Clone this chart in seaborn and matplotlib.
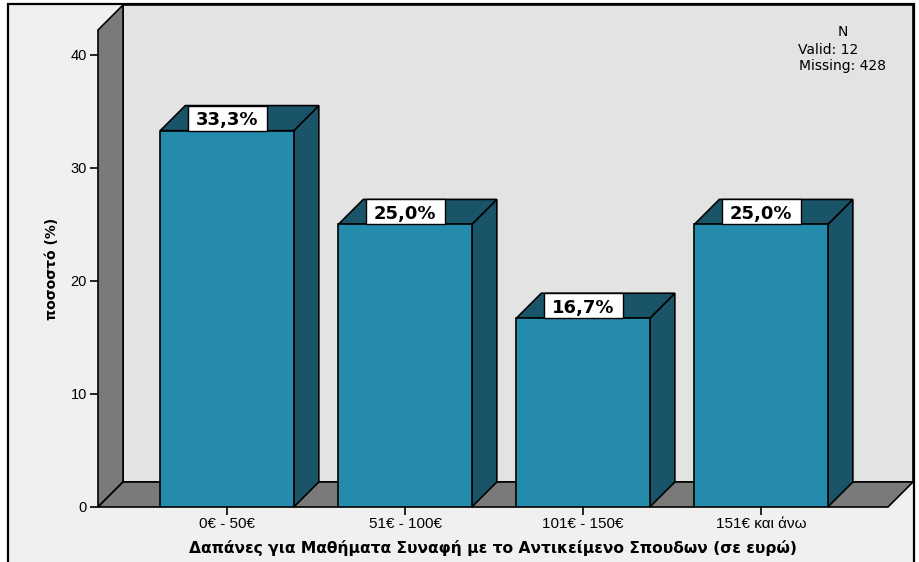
import matplotlib
matplotlib.use("Agg")
import matplotlib.pyplot as plt
import numpy as np
import pandas as pd
import seaborn as sns
from matplotlib.patches import Polygon, Rectangle

categories = ["0€ - 50€", "51€ - 100€", "101€ - 150€", "151€ και άνω"]
percent = [33.3, 25.0, 16.7, 25.0]
bar_labels = ["33,3%", "25,0%", "16,7%", "25,0%"]
y_ticks = [0, 10, 20, 30, 40]
n_text = ["N", "Valid: 12", "Missing: 428"]

x_title = "Δαπάνες για Μαθήματα Συναφή με το Αντικείμενο Σπουδων (σε ευρώ)"
y_title = "ποσοστό (%)"

FRONT = "#248BAC"
DARK = "#1A5468"
WALL = "#7A7A7A"
BACK = "#E3E3E3"
PANEL = "#F0F0F0"
DEPTH_PX = 25
LABEL_BOX_PX = 79

df = pd.DataFrame({"cat": categories, "pct": percent})

fig = plt.figure(figsize=(9.2, 5.62), dpi=100, facecolor="white")
# outer panel frame
fig.add_artist(Rectangle((8 / 920, -0.05), 906 / 920, 1.05 - 4 / 562,
                         transform=fig.transFigure, facecolor=PANEL,
                         edgecolor="black", lw=1.6, zorder=-5))

ax = fig.add_axes([98 / 920, 55 / 562, 790 / 920, 477 / 562])
ax.set_facecolor("none")

sns.barplot(data=df, x="cat", y="pct", order=categories, color=FRONT,
            width=0.75, edgecolor="black", linewidth=1.2, saturation=1,
            ax=ax, zorder=5)
xlim = (-0.725, 3.713)
ylim = (0, 42.2)
ax.set_xlim(*xlim)
ax.set_ylim(*ylim)

# depth offset in data units
sx = (ax.get_position().width * fig.get_figwidth() * fig.dpi) / (xlim[1] - xlim[0])
sy = (ax.get_position().height * fig.get_figheight() * fig.dpi) / (ylim[1] - ylim[0])
dx, dy = DEPTH_PX / sx, DEPTH_PX / sy

bars = [p for p in ax.patches if isinstance(p, Rectangle)]

x0, x1 = xlim
top = ylim[1]
kw = dict(edgecolor="black", lw=1.2, clip_on=False, joinstyle="miter")
ax.add_patch(Polygon([(x0 + dx, dy), (x1 + dx, dy), (x1 + dx, top + dy), (x0 + dx, top + dy)],
                     facecolor=BACK, zorder=1, **kw))
ax.add_patch(Polygon([(x0, 0), (x0 + dx, dy), (x0 + dx, top + dy), (x0, top)],
                     facecolor=WALL, zorder=2, **kw))
ax.add_patch(Polygon([(x0, 0), (x1, 0), (x1 + dx, dy), (x0 + dx, dy)],
                     facecolor=WALL, zorder=2, **kw))

box_w = LABEL_BOX_PX / sx
for bar, lab in zip(bars, bar_labels):
    xl = bar.get_x()
    w = bar.get_width()
    h = bar.get_height()
    xr = xl + w
    xc = xl + w / 2
    ax.add_patch(Polygon([(xr, 0), (xr + dx, dy), (xr + dx, h + dy), (xr, h)],
                         facecolor=DARK, zorder=4, **kw))
    ax.add_patch(Polygon([(xl, h), (xr, h), (xr + dx, h + dy), (xl + dx, h + dy)],
                         facecolor=DARK, zorder=4, **kw))
    ax.add_patch(Rectangle((xc - box_w / 2, h), box_w, dy, facecolor="white",
                           edgecolor="black", lw=1.0, zorder=6, clip_on=False))
    ax.text(xc, h + dy / 2, lab, ha="center", va="center_baseline",
            fontsize=13, fontweight="bold", family="DejaVu Sans", zorder=7)

for s in ax.spines.values():
    s.set_visible(False)
ax.set_yticks(y_ticks)
ax.set_yticklabels([str(t) for t in y_ticks], family="Liberation Sans", fontsize=10.5)
ax.set_xticks(range(len(categories)))
ax.set_xticklabels(categories, family="Liberation Sans", fontsize=11)
ax.tick_params(axis="both", direction="out", length=6, width=1.2, color="black", pad=2)
ax.tick_params(axis="x", pad=1)

ax.set_xlabel(x_title, fontsize=11.2, fontweight="bold", family="DejaVu Sans", labelpad=7)
ax.set_ylabel(y_title, fontsize=10, fontweight="bold", family="DejaVu Sans", labelpad=8)

# N annotation in top-right corner of the back wall
ax.text(0.916, 0.943, n_text[0], transform=fig.transFigure, ha="center", va="center",
        fontsize=10, family="DejaVu Sans")
ax.text(0.867, 0.911, n_text[1], transform=fig.transFigure, ha="left", va="center",
        fontsize=10, family="DejaVu Sans")
ax.text(0.869, 0.882, n_text[2], transform=fig.transFigure, ha="left", va="center",
        fontsize=10, family="DejaVu Sans")

fig.savefig("out.png", dpi=100, facecolor="white")
